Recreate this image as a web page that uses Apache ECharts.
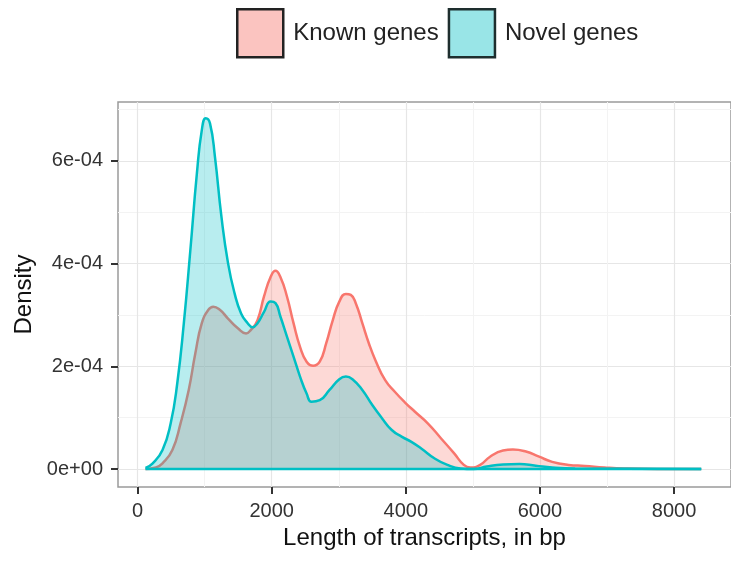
<!DOCTYPE html>
<html>
<head>
<meta charset="utf-8">
<title>Length of transcripts</title>
<script src="https://cdn.jsdelivr.net/npm/echarts@6/dist/echarts.min.js"></script>
<style>
  html, body { margin: 0; padding: 0; background: #fff; }
  #chart { width: 731px; height: 561px; }
</style>
</head>
<body>
<div id="chart"></div>
<script>
// series names (legend order)
const seriesNames = ['Known genes', 'Novel genes'];

// Known genes: transcript length (bp) and density (x 1e-4)
const knownLength = [117, 273, 371, 518, 640, 762, 860, 957, 1055, 1128,
    1226, 1348, 1495, 1617, 1690, 1788, 1885, 1983, 2056, 2129,
    2227, 2325, 2422, 2520, 2618, 2716, 2813, 2911, 3008, 3106,
    3179, 3253, 3351, 3448, 3546, 3692, 3839, 3985, 4132, 4327,
    4523, 4718, 4865, 4962, 5109, 5256, 5450, 5597, 5792, 5988,
    6183, 6427, 6671, 6964, 7257, 7746, 8406];
const knownDensity = [0.0, 0.03, 0.11, 0.37, 0.89, 1.54, 2.25, 2.84, 3.10, 3.16,
    3.10, 2.93, 2.74, 2.64, 2.71, 2.90, 3.36, 3.74, 3.86, 3.74,
    3.36, 2.84, 2.38, 2.09, 2.01, 2.09, 2.45, 2.90, 3.26, 3.41,
    3.39, 3.23, 2.84, 2.45, 2.12, 1.73, 1.50, 1.30, 1.12, 0.89,
    0.60, 0.31, 0.08, 0.03, 0.08, 0.24, 0.36, 0.38, 0.34, 0.24,
    0.14, 0.08, 0.06, 0.03, 0.01, 0.0, 0];

// Novel genes: transcript length (bp) and density (x 1e-4)
const novelLength = [117, 225, 371, 493, 591, 689, 786, 884, 957, 1016,
    1079, 1153, 1250, 1348, 1446, 1543, 1641, 1714, 1788, 1885,
    1983, 2056, 2129, 2227, 2325, 2422, 2520, 2593, 2716, 2862,
    3008, 3106, 3204, 3351, 3497, 3644, 3790, 3937, 4083, 4230,
    4425, 4620, 4816, 5011, 5206, 5450, 5695, 5939, 6183, 6525,
    7257, 8406];
const novelDensity = [0.02, 0.11, 0.37, 0.89, 1.67, 2.84, 4.26, 5.76, 6.60, 6.83,
    6.73, 6.08, 4.91, 4.01, 3.42, 3.03, 2.84, 2.76, 2.84, 3.06,
    3.26, 3.23, 2.97, 2.58, 2.19, 1.80, 1.47, 1.31, 1.34, 1.54,
    1.75, 1.80, 1.75, 1.54, 1.25, 0.99, 0.76, 0.63, 0.53, 0.40,
    0.21, 0.08, 0.01, 0.0, 0.05, 0.09, 0.10, 0.065, 0.03, 0.01,
    0.005, 0];

// ticks
const xTickValues = [0, 2000, 4000, 6000, 8000];
const xMinorValues = [1000, 3000, 5000, 7000];
const yTickValues = [0, 2e-4, 4e-4, 6e-4];
const yTickLabels = ['0e+00', '2e-04', '4e-04', '6e-04'];
const yMinorValues = [1e-4, 3e-4, 5e-4, 7e-4];

const toPairs = (xs, ys) => xs.map((x, i) => [x, ys[i] * 1e-4]);
const knownData = toPairs(knownLength, knownDensity);
const novelData = toPairs(novelLength, novelDensity);
const novelBase = [[novelLength[0], 0], [novelLength[novelLength.length - 1], 0]];

const font = "'Liberation Sans', Arial, sans-serif";
const xRange = { min: -293, max: 8850 };
const yRange = { min: -3.5e-5, max: 7.147e-4 };

const chart = echarts.init(document.getElementById('chart'), null, { renderer: 'canvas' });

const option = {
    animation: false,
    backgroundColor: '#fff',
    textStyle: { fontFamily: font },
    legend: {
        left: 231,
        top: 3,
        itemWidth: 46,
        itemHeight: 48,
        itemGap: 9,
        selectedMode: false,
        textStyle: { fontSize: 24, color: '#222', fontFamily: font, padding: [0, 0, 0, 5] },
        data: [
            { name: seriesNames[0], icon: 'rect', itemStyle: { color: '#fbc4c0', borderColor: '#222', borderWidth: 2.5 } },
            { name: seriesNames[1], icon: 'rect', itemStyle: { color: '#99e5e7', borderColor: '#1e2e2e', borderWidth: 2.5 } }
        ]
    },
    grid: {
        left: 118,
        top: 102,
        width: 624,
        height: 385,
        show: true,
        borderColor: '#9a9a9a',
        borderWidth: 1.5,
        backgroundColor: 'transparent'
    },
    xAxis: [{
        type: 'value',
        min: xRange.min,
        max: xRange.max,
        name: 'Length of transcripts, in bp',
        nameLocation: 'middle',
        nameGap: 29,
        nameTextStyle: { fontSize: 24, color: '#111', fontFamily: font },
        axisLine: { show: false, onZero: false },
        axisTick: { show: true, length: 7, customValues: xTickValues, lineStyle: { color: '#333', width: 2 } },
        axisLabel: {
            customValues: xTickValues, margin: 14, fontSize: 20, color: '#333', fontFamily: font,
            formatter: v => String(Math.round(v))
        },
        splitLine: { show: true, lineStyle: { color: '#e6e6e6', width: 1.2 } }
    }, {
        type: 'value',
        min: xRange.min,
        max: xRange.max,
        position: 'bottom',
        axisLine: { show: false, onZero: false },
        axisTick: { show: false, customValues: xMinorValues },
        axisLabel: { show: false, customValues: xMinorValues },
        splitLine: { show: true, lineStyle: { color: '#f3f3f3', width: 1 } }
    }],
    yAxis: [{
        type: 'value',
        min: yRange.min,
        max: yRange.max,
        name: 'Density',
        nameLocation: 'middle',
        nameGap: 82,
        nameTextStyle: { fontSize: 24, color: '#111', fontFamily: font },
        axisLine: { show: false, onZero: false },
        axisTick: { show: true, length: 7, customValues: yTickValues, lineStyle: { color: '#333', width: 2 } },
        axisLabel: {
            customValues: yTickValues,
            margin: 15,
            fontSize: 20,
            color: '#333',
            fontFamily: font,
            formatter: function (v) {
                let best = 0;
                yTickValues.forEach((t, i) => {
                    if (Math.abs(t - v) < Math.abs(yTickValues[best] - v)) best = i;
                });
                return yTickLabels[best];
            }
        },
        splitLine: { show: true, lineStyle: { color: '#e6e6e6', width: 1.2 } }
    }, {
        type: 'value',
        min: yRange.min,
        max: yRange.max,
        position: 'left',
        axisLine: { show: false, onZero: false },
        axisTick: { show: false, customValues: yMinorValues },
        axisLabel: { show: false, customValues: yMinorValues },
        splitLine: { show: true, lineStyle: { color: '#f3f3f3', width: 1 } }
    }],
    series: [{
        name: seriesNames[0],
        type: 'line',
        data: knownData,
        smooth: 0.5,
        symbol: 'none',
        silent: true,
        z: 2,
        itemStyle: { color: '#F8766D' },
        lineStyle: { color: '#F8766D', width: 2.5 },
        areaStyle: { color: 'rgba(248,118,109,0.4)' }
    }, {
        name: seriesNames[1],
        type: 'line',
        data: novelData,
        smooth: 0.5,
        symbol: 'none',
        silent: true,
        z: 3,
        itemStyle: { color: '#00BFC4' },
        lineStyle: { color: '#00BFC4', width: 2.5 },
        areaStyle: { color: 'rgba(0,191,196,0.4)' }
    }, {
        name: 'novel-base',
        type: 'line',
        data: novelBase,
        symbol: 'none',
        silent: true,
        z: 3,
        lineStyle: { color: '#00BFC4', width: 2.5 }
    }]
};

chart.setOption(option);
</script>
</body>
</html>
